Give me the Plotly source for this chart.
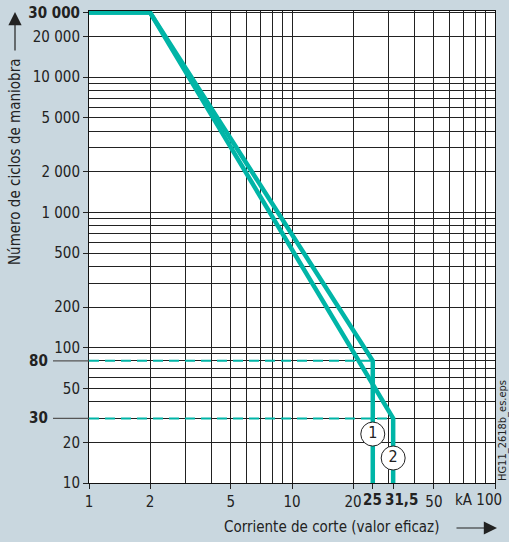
import math
import plotly.graph_objects as go

# ---- data ----
curve1_x = [1, 2, 25, 25]
curve1_y = [30000, 30000, 80, 10]
curve2_x = [1, 2, 31.5, 31.5]
curve2_y = [30000, 30000, 30, 10]
ref80_x = [1, 25]
ref80_y = [80, 80]
ref30_x = [1, 31.5]
ref30_y = [30, 30]
label_pts_x = [25, 31.5]
label_pts_y = [23, 15.3]
label_pts_text = ["1", "2"]

x_grid = [1, 2, 3, 4, 5, 6, 7, 8, 9, 10, 20, 30, 40, 50, 60, 70, 80, 90, 100]
y_grid = ([10, 20, 30, 40, 50, 60, 70, 80, 90, 100, 200, 300, 400, 500, 600, 700, 800, 900,
           1000, 2000, 3000, 4000, 5000, 6000, 7000, 8000, 9000, 10000, 20000, 30000])
x_tick_vals = [1, 2, 5, 10, 20, 25, 31.5, 50, 100]
x_tick_text = ["1", "2", "5", "10", "20", "", "", "50", ""]
x_bold_labels = ["<b>25</b>", "<b>31,5</b>", "kA 100"]
y_tick_vals = [10, 20, 50, 100, 200, 500, 1000, 2000, 5000, 10000, 20000, 30000]
y_tick_text = ["10", "20", "50", "100", "200", "500", "1 000", "2 000", "5 000", "10 000",
               "20 000", "<b>30 000</b>"]
y_bold_vals = [30, 80]

TEAL = "#00b5a7"
BG = "#c9d7df"
INK = "#222222"
FONT = "DejaVu Sans Condensed, Liberation Sans Narrow, Roboto, sans-serif"
FS = 15
TFS = 15

W, H = 509, 542
L, R, T, B = 89, 14, 11, 59
PW, PH = W - L - R, H - T - B

yr = [1, math.log10(30000) + 0.012]
xr = [0, 2]

def px_x(p):
    return (p - L) / PW

def px_y(p):
    return (H - B - p) / PH

def ypaper(v):
    return (math.log10(v) - yr[0]) / (yr[1] - yr[0])

fig = go.Figure()
fig.add_trace(go.Scatter(x=curve1_x, y=curve1_y, mode="lines",
                         line=dict(color=TEAL, width=4.5), showlegend=False, hoverinfo="skip"))
fig.add_trace(go.Scatter(x=curve2_x, y=curve2_y, mode="lines",
                         line=dict(color=TEAL, width=4.5), showlegend=False, hoverinfo="skip"))
fig.add_trace(go.Scatter(x=ref80_x, y=ref80_y, mode="lines", xaxis="x2", yaxis="y2",
                         line=dict(color=TEAL, width=2, dash="10px,6px"),
                         showlegend=False, hoverinfo="skip"))
fig.add_trace(go.Scatter(x=ref30_x, y=ref30_y, mode="lines", xaxis="x2", yaxis="y2",
                         line=dict(color=TEAL, width=2, dash="10px,6px"),
                         showlegend=False, hoverinfo="skip"))
fig.add_trace(go.Scatter(x=label_pts_x, y=label_pts_y, mode="markers+text", xaxis="x2", yaxis="y2",
                         text=label_pts_text, textposition="middle center",
                         textfont=dict(family=FONT, size=16, color=INK),
                         marker=dict(symbol="circle", size=24, color="white",
                                     line=dict(color=INK, width=1)),
                         showlegend=False, hoverinfo="skip"))

axis_common = dict(type="log", zeroline=False, automargin=False)
fig.update_layout(
    width=W, height=H,
    margin=dict(l=L, r=R, t=T, b=B),
    paper_bgcolor=BG, plot_bgcolor="white",
    font=dict(family=FONT, size=FS, color=INK),
    xaxis=dict(**axis_common, range=xr, tickvals=x_grid, showticklabels=False, ticks="",
               showgrid=True, gridcolor=INK, gridwidth=1,
               showline=True, linecolor="#111111", linewidth=1.2, mirror=True),
    yaxis=dict(**axis_common, range=yr, tickvals=y_grid, showticklabels=False, ticks="",
               showgrid=True, gridcolor=INK, gridwidth=1,
               showline=True, linecolor="#111111", linewidth=1.2, mirror=True),
    xaxis2=dict(**axis_common, range=xr, overlaying="x", anchor="y2", side="bottom",
                tickvals=x_tick_vals, ticktext=x_tick_text, ticks="outside", ticklen=5,
                tickangle=0, tickcolor=INK, showgrid=False, showline=False,
                tickfont=dict(family=FONT, size=TFS, color=INK)),
    yaxis2=dict(**axis_common, range=yr, overlaying="y", anchor="x2", side="left",
                tickvals=y_tick_vals, ticktext=y_tick_text, ticks="outside", ticklen=5,
                tickcolor=INK, showgrid=False, showline=False,
                tickfont=dict(family=FONT, size=TFS, color=INK)),
)

# x labels placed like the reference (25, 31,5 bold; "kA 100")
x_label_px = [372, 401, 504]
x_label_anchor = ["center", "center", "right"]
for txt, p, anc in zip(x_bold_labels, x_label_px, x_label_anchor):
    fig.add_annotation(text=txt, xref="paper", yref="paper", x=px_x(p), y=px_y(500),
                       xanchor=anc, yanchor="middle", showarrow=False,
                       font=dict(family=FONT, size=TFS, color=INK))

# long ticks + bold labels for 30 and 80
for v in y_bold_vals:
    fig.add_shape(type="line", xref="paper", yref="paper",
                  x0=px_x(53), x1=0, y0=ypaper(v), y1=ypaper(v),
                  line=dict(color="#555555", width=1.2))
    fig.add_annotation(text="<b>%d</b>" % v, xref="paper", yref="paper",
                       x=px_x(50), y=ypaper(v), xanchor="right", yanchor="middle",
                       showarrow=False, font=dict(family=FONT, size=TFS, color=INK))

# axis titles
fig.add_annotation(text="Número de ciclos de maniobra", xref="paper", yref="paper",
                   x=px_x(15), y=px_y(162), textangle=-90, showarrow=False,
                   xanchor="center", yanchor="middle",
                   font=dict(family=FONT, size=FS, color=INK))
fig.add_annotation(text="", xref="paper", yref="paper", x=px_x(15), y=px_y(12),
                   ax=0, ay=40, showarrow=True, arrowhead=2, arrowsize=2.2,
                   arrowwidth=1.2, arrowcolor=INK)
fig.add_annotation(text="Corriente de corte (valor eficaz)", xref="paper", yref="paper",
                   x=px_x(331), y=px_y(527), showarrow=False,
                   xanchor="center", yanchor="middle",
                   font=dict(family=FONT, size=FS, color=INK))
fig.add_annotation(text="", xref="paper", yref="paper", x=px_x(497), y=px_y(528),
                   ax=-42, ay=0, showarrow=True, arrowhead=2, arrowsize=2.2,
                   arrowwidth=1.2, arrowcolor=INK)

# file reference
fig.add_annotation(text="HG11_2618b_es.eps", xref="paper", yref="paper",
                   x=px_x(502), y=px_y(430), textangle=-90, showarrow=False,
                   xanchor="center", yanchor="middle",
                   font=dict(family=FONT, size=11, color=INK))

fig.write_html("out.html", config={"displayModeBar": False},
               post_script="document.body.style.margin='0';document.body.style.background='%s';" % BG)
